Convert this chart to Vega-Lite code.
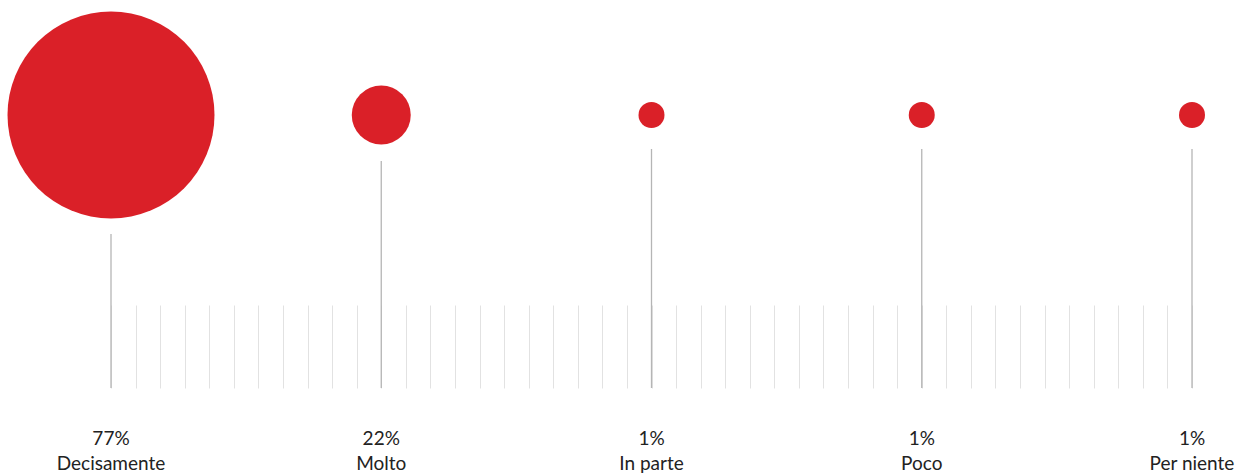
{
  "$schema": "https://vega.github.io/schema/vega-lite/v6.json",
  "width": 1081,
  "height": 388,
  "autosize": "none",
  "padding": {"left": 111, "right": 51, "top": 0, "bottom": 87},
  "background": "white",
  "config": {"view": {"stroke": null}},
  "data": {
    "values": [
      {"category": "Decisamente", "value": 77},
      {"category": "Molto", "value": 22},
      {"category": "In parte", "value": 1},
      {"category": "Poco", "value": 1},
      {"category": "Per niente", "value": 1}
    ]
  },
  "transform": [{"calculate": "datum.value + '%'", "as": "pct"}],
  "layer": [
    {
      "mark": {"type": "point", "opacity": 0},
      "encoding": {
        "x": {
          "datum": 0,
          "type": "quantitative",
          "scale": {"domain": [0, 44], "nice": false, "zero": false},
          "axis": {
            "orient": "bottom",
            "values": [0,1,2,3,4,5,6,7,8,9,10,11,12,13,14,15,16,17,18,19,20,21,22,23,24,25,26,27,28,29,30,31,32,33,34,35,36,37,38,39,40,41,42,43,44],
            "tickSize": -83,
            "tickColor": "#e2e2e2",
            "tickWidth": 1,
            "domain": false,
            "labels": false,
            "grid": false,
            "title": null
          }
        }
      }
    },
    {
      "layer": [
        {
          "mark": {"type": "rule", "color": "#b5b5b5", "strokeWidth": 1.3},
          "encoding": {
            "x": {"field": "category", "type": "nominal", "sort": null, "scale": {"type": "point", "padding": 0}, "axis": null},
            "y": {"field": "value", "type": "quantitative", "scale": {"domain": [1, 22, 77], "range": [149, 161, 234]}, "axis": null},
            "y2": {"value": 388}
          }
        },
        {
          "mark": {"type": "circle", "color": "#da2028", "opacity": 1},
          "encoding": {
            "x": {"field": "category", "type": "nominal", "sort": null, "scale": {"type": "point", "padding": 0}, "axis": null},
            "y": {"value": 115},
            "size": {"field": "value", "type": "quantitative", "scale": {"domain": [1, 22, 77], "range": [676, 3481, 42849]}, "legend": null}
          }
        },
        {
          "mark": {"type": "text", "font": "Lato", "fontSize": 19, "color": "#222222", "baseline": "alphabetic"},
          "encoding": {
            "x": {"field": "category", "type": "nominal", "sort": null, "scale": {"type": "point", "padding": 0}, "axis": null},
            "y": {"value": 445},
            "text": {"field": "pct"}
          }
        },
        {
          "mark": {"type": "text", "font": "Lato", "fontSize": 19, "color": "#222222", "baseline": "alphabetic"},
          "encoding": {
            "x": {"field": "category", "type": "nominal", "sort": null, "scale": {"type": "point", "padding": 0}, "axis": null},
            "y": {"value": 470},
            "text": {"field": "category"}
          }
        }
      ],
      "resolve": {"scale": {"y": "independent"}}
    }
  ],
  "resolve": {"scale": {"x": "independent"}, "axis": {"x": "independent"}}
}
